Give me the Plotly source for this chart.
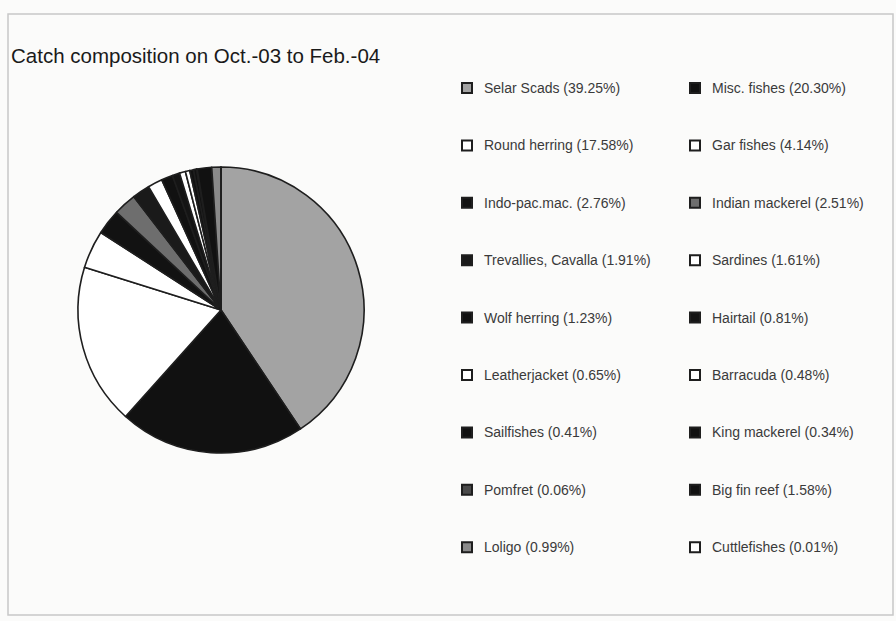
import plotly.graph_objects as go

W, H = 896, 621

title_text = "Catch composition on Oct.-03 to Feb.-04"
species = ["Selar Scads", "Misc. fishes", "Round herring", "Gar fishes",
           "Indo-pac.mac.", "Indian mackerel", "Trevallies, Cavalla", "Sardines",
           "Wolf herring", "Hairtail", "Leatherjacket", "Barracuda",
           "Sailfishes", "King mackerel", "Pomfret", "Big fin reef",
           "Loligo", "Cuttlefishes"]
percent = [39.25, 20.30, 17.58, 4.14, 2.76, 2.51, 1.91, 1.61, 1.23, 0.81,
           0.65, 0.48, 0.41, 0.34, 0.06, 1.58, 0.99, 0.01]
colors = ["#a3a3a3", "#111111", "#ffffff", "#ffffff", "#121212", "#6e6e6e",
          "#1a1a1a", "#ffffff", "#111111", "#141414", "#ffffff", "#ffffff",
          "#111111", "#111111", "#4a4a4a", "#111111", "#8a8a8a", "#ffffff"]

def px(x):
    return x / W

def py(y):
    return 1 - y / H

# pie geometry (pixels)
cx, cy, D = 221, 310, 286

fig = go.Figure()
fig.add_trace(go.Pie(
    labels=species, values=percent, sort=False, direction="clockwise",
    rotation=0, textinfo="none", hoverinfo="label+value",
    marker=dict(colors=colors, line=dict(color="#1e1e1e", width=1.6)),
    domain=dict(x=[px(cx - D / 2), px(cx + D / 2)],
                y=[py(cy + D / 2), py(cy - D / 2)]),
    showlegend=False,
))

shapes = []
annotations = []

# outer frame
shapes.append(dict(type="rect", xref="paper", yref="paper",
                   x0=px(8), x1=px(893), y0=py(615), y1=py(14),
                   line=dict(color="#c8c8c8", width=1.5), fillcolor="rgba(0,0,0,0)"))

annotations.append(dict(text=title_text, xref="paper", yref="paper",
                        x=px(9), y=py(56), xanchor="left", yanchor="middle",
                        showarrow=False,
                        font=dict(family="Arial, Liberation Sans", size=20.5, color="#1a1a1a")))

# manual two-column legend
col_x = [462, 690]
row_y0, row_dy = 88, 57.4
sq = 10
for i, (name, val, c) in enumerate(zip(species, percent, colors)):
    col, row = i % 2, i // 2
    x = col_x[col]
    y = row_y0 + row * row_dy
    shapes.append(dict(type="rect", xref="paper", yref="paper",
                       x0=px(x), x1=px(x + sq), y0=py(y + sq / 2), y1=py(y - sq / 2),
                       line=dict(color="#1e1e1e", width=2), fillcolor=c))
    annotations.append(dict(text=f"{name} ({val:.2f}%)", xref="paper", yref="paper",
                            x=px(x + 20), y=py(y), xanchor="left", yanchor="middle",
                            showarrow=False,
                            font=dict(family="Arial, Liberation Sans", size=14, color="#3a3a3a")))

fig.update_layout(
    width=W, height=H, margin=dict(l=0, r=0, t=0, b=0),
    paper_bgcolor="#fbfbfa", plot_bgcolor="#fbfbfa",
    shapes=shapes, annotations=annotations, showlegend=False,
)

fig.write_html("out.html")
